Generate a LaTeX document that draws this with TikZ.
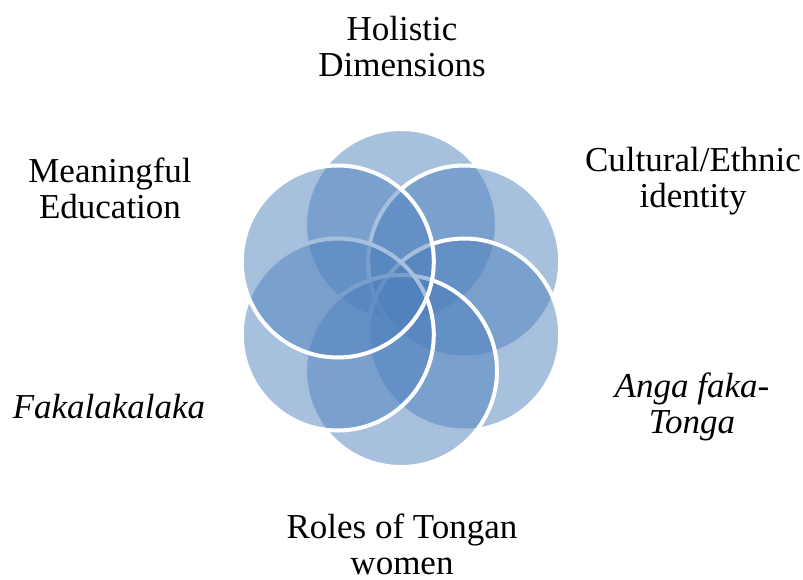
\documentclass[tikz,border=0pt]{standalone}
\usepackage{fontspec}
\setmainfont{Liberation Serif}
\definecolor{petal}{HTML}{4F81BD}
\begin{document}
\begin{tikzpicture}[x=1pt,y=-1pt,
  petal/.style={circle, minimum size=192pt, inner sep=0pt,
    fill=petal, fill opacity=0.5, draw=white, draw opacity=1, line width=4pt},
  lbl/.style={align=center, inner sep=0pt, anchor=base,
    font=\fontsize{35}{36}\selectfont, text=black}]
\useasboundingbox (0,0) rectangle (803,579);
% six overlapping petals, drawn clockwise from the top
\node[petal] (c1) at (401,225) {};
\node[petal] (c2) at (464.2,261.5) {};
\node[petal] (c3) at (464.2,334.5) {};
\node[petal] (c4) at (401,371) {};
\node[petal] (c5) at (337.8,334.5) {};
\node[petal] (c6) at (337.8,261.5) {};
% labels around the flower (placed by the baseline of their last line)
\node[lbl] (l1) at (402,76) {Holistic\\Dimensions};
\node[lbl] (l2) at (693,207) {Cultural/Ethnic\\identity};
\node[lbl] (l3) at (692,433) {\itshape Anga faka-\\\itshape Tonga};
\node[lbl] (l4) at (402,574) {Roles of Tongan\\women};
\node[lbl] (l5) at (109,418) {\itshape Fakalakalaka};
\node[lbl] (l6) at (110,218) {Meaningful\\Education};
\end{tikzpicture}
\end{document}
